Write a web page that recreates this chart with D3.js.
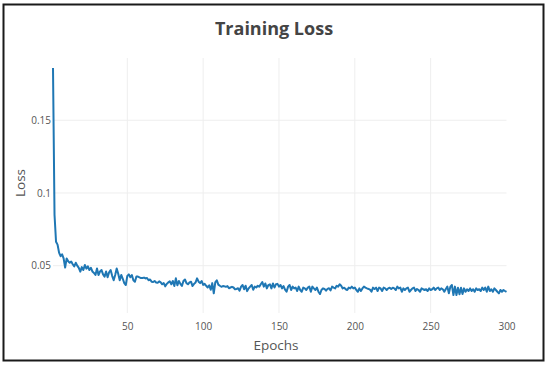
<!DOCTYPE html>
<html>
<head>
<meta charset="utf-8">
<script src="https://cdn.jsdelivr.net/npm/d3@7"></script>
<style>
  body { margin: 0; background: #fff; }
  svg { display: block; font-family: "Open Sans", sans-serif; }
</style>
</head>
<body>
<svg id="chart"></svg>
<script>
// loss per epoch (epoch 1..300)
const lossValues = [
  0.186, 0.085, 0.0665, 0.0645, 0.059, 0.0565, 0.0578, 0.055, 0.0487, 0.055,
  0.053, 0.052, 0.0528, 0.051, 0.0495, 0.052, 0.050, 0.0485, 0.0459, 0.049,
  0.047, 0.0505, 0.048, 0.0495, 0.047, 0.0485, 0.046, 0.045, 0.0436, 0.048,
  0.0436, 0.046, 0.047, 0.044, 0.0425, 0.046, 0.042, 0.0455, 0.047, 0.043,
  0.040, 0.0436, 0.048, 0.0445, 0.040, 0.0436, 0.041, 0.038, 0.0367, 0.043,
  0.044, 0.042, 0.0436, 0.040, 0.039, 0.0425, 0.0425, 0.042, 0.0415, 0.0415,
  0.0418, 0.0412, 0.0415, 0.040, 0.0405, 0.039, 0.0388, 0.0395, 0.0385, 0.0382,
  0.0392, 0.0385, 0.0372, 0.038, 0.0358, 0.0375, 0.0385, 0.0392, 0.0372, 0.0395,
  0.036, 0.0413, 0.0365, 0.0395, 0.0375, 0.036, 0.0395, 0.0405, 0.038, 0.0372,
  0.0385, 0.039, 0.036, 0.0375, 0.0385, 0.0413, 0.039, 0.038, 0.0395, 0.0368,
  0.0375, 0.0362, 0.035, 0.0365, 0.0335, 0.038, 0.031, 0.0385, 0.040, 0.037,
  0.0362, 0.0355, 0.036, 0.0358, 0.0355, 0.036, 0.0345, 0.035, 0.0355, 0.035,
  0.0338, 0.034, 0.0345, 0.0328, 0.0356, 0.0367, 0.0338, 0.0362, 0.0325, 0.0344,
  0.0356, 0.0367, 0.0335, 0.0356, 0.035, 0.0362, 0.0356, 0.0372, 0.0388, 0.0356,
  0.0378, 0.0344, 0.0367, 0.0372, 0.0344, 0.0378, 0.035, 0.0372, 0.0375, 0.0356,
  0.0367, 0.0344, 0.036, 0.0335, 0.0321, 0.0356, 0.0367, 0.0333, 0.0356, 0.0344,
  0.0349, 0.0326, 0.0356, 0.0333, 0.0321, 0.0349, 0.0344, 0.0333, 0.0349, 0.0356,
  0.0321, 0.0356, 0.0344, 0.0333, 0.0349, 0.0321, 0.0305, 0.0333, 0.0344, 0.034,
  0.0328, 0.034, 0.0345, 0.033, 0.0356, 0.0349, 0.0344, 0.0362, 0.0356, 0.0372,
  0.0362, 0.0344, 0.0349, 0.0338, 0.0333, 0.0349, 0.0344, 0.0356, 0.0344, 0.0349,
  0.0333, 0.0321, 0.0344, 0.0326, 0.0344, 0.0356, 0.0349, 0.0344, 0.034, 0.0335,
  0.0321, 0.0349, 0.034, 0.0349, 0.0326, 0.0349, 0.0344, 0.0326, 0.0349, 0.0344,
  0.0333, 0.0344, 0.0349, 0.034, 0.0349, 0.0344, 0.0333, 0.0356, 0.0344, 0.0349,
  0.0321, 0.0344, 0.0333, 0.0344, 0.0349, 0.0321, 0.0333, 0.0344, 0.0349, 0.0326,
  0.034, 0.0333, 0.0321, 0.0344, 0.0338, 0.0333, 0.0338, 0.0326, 0.0344, 0.0333,
  0.0338, 0.0349, 0.0333, 0.0344, 0.0349, 0.0333, 0.0344, 0.0338, 0.0321, 0.034,
  0.0356, 0.031, 0.0356, 0.0367, 0.0298, 0.0356, 0.0298, 0.0349, 0.0303, 0.0349,
  0.0305, 0.0344, 0.0321, 0.0338, 0.0326, 0.0344, 0.0326, 0.0338, 0.0321, 0.0344,
  0.0333, 0.0338, 0.0326, 0.0349, 0.0333, 0.0349, 0.0321, 0.0356, 0.0326, 0.0338,
  0.0321, 0.0344, 0.0333, 0.0321, 0.031, 0.0333, 0.0321, 0.0333, 0.0326, 0.032
];
const xTicks = [50, 100, 150, 200, 250, 300];
const yTicks = [0.05, 0.1, 0.15];
const yTickLabels = ['0.05', '0.1', '0.15'];

const width = 550, height = 367;
const plot = { left: 53, right: 506.5, top: 58, bottom: 313 };

const data = lossValues.map((v, i) => ({ epoch: i + 1, loss: v }));

const svg = d3.select('#chart')
  .attr('width', width)
  .attr('height', height);

svg.append('rect')
  .attr('width', width)
  .attr('height', height)
  .attr('fill', '#fff');

// outer frame
svg.append('rect')
  .attr('x', 3.5)
  .attr('y', 4.5)
  .attr('width', 540)
  .attr('height', 356)
  .attr('fill', 'none')
  .attr('stroke', '#1a1a1a')
  .attr('stroke-width', 2);

const x = d3.scaleLinear()
  .domain([1, 300])
  .range([plot.left, plot.right]);

const y = d3.scaleLinear()
  .domain([0.01747, 0.1928])
  .range([plot.bottom, plot.top]);

// grid
svg.append('g')
  .selectAll('line')
  .data(xTicks.filter(d => d < 300))
  .join('line')
  .attr('x1', d => x(d))
  .attr('x2', d => x(d))
  .attr('y1', plot.top)
  .attr('y2', plot.bottom)
  .attr('stroke', '#eee')
  .attr('stroke-width', 1);

svg.append('g')
  .selectAll('line')
  .data(yTicks)
  .join('line')
  .attr('x1', plot.left)
  .attr('x2', plot.right)
  .attr('y1', d => y(d))
  .attr('y2', d => y(d))
  .attr('stroke', '#eee')
  .attr('stroke-width', 1);

// axes (no domain line, no tick marks)
const xAxis = svg.append('g')
  .attr('transform', `translate(0,${plot.bottom})`)
  .call(d3.axisBottom(x).tickValues(xTicks).tickSize(0).tickPadding(10));
xAxis.select('.domain').remove();
xAxis.selectAll('text')
  .attr('fill', '#555')
  .style('font-size', '10px')
  .style('font-family', '"Open Sans", sans-serif');

const yAxis = svg.append('g')
  .attr('transform', `translate(${plot.left},0)`)
  .call(d3.axisLeft(y).tickValues(yTicks).tickFormat((d, i) => yTickLabels[i]).tickSize(0).tickPadding(2));
yAxis.select('.domain').remove();
yAxis.selectAll('text')
  .attr('fill', '#555')
  .style('font-size', '10px')
  .style('font-family', '"Open Sans", sans-serif');

// loss line
const line = d3.line()
  .x(d => x(d.epoch))
  .y(d => y(d.loss));

svg.append('path')
  .datum(data)
  .attr('d', line)
  .attr('fill', 'none')
  .attr('stroke', '#1f77b4')
  .attr('stroke-width', 2)
  .attr('stroke-linejoin', 'round');

// titles
svg.append('text')
  .attr('x', 274)
  .attr('y', 35)
  .attr('text-anchor', 'middle')
  .attr('fill', '#444')
  .style('font-size', '18px')
  .style('font-weight', 'bold')
  .text('Training Loss');

svg.append('text')
  .attr('x', 276)
  .attr('y', 350)
  .attr('text-anchor', 'middle')
  .attr('fill', '#555')
  .style('font-size', '13.5px')
  .text('Epochs');

svg.append('text')
  .attr('transform', 'translate(25,183) rotate(-90)')
  .attr('text-anchor', 'middle')
  .attr('fill', '#555')
  .style('font-size', '13.5px')
  .text('Loss');
</script>
</body>
</html>
